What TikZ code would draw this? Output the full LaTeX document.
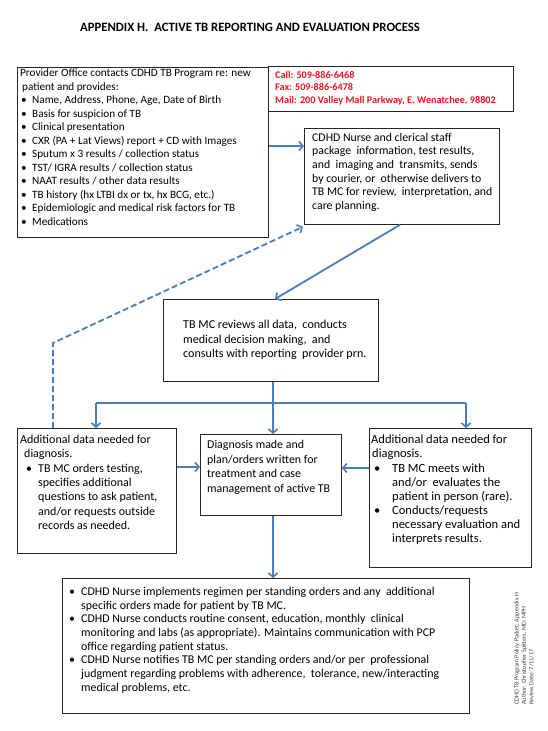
\documentclass[tikz,border=0pt]{standalone}
\usepackage{fontspec}
\setmainfont{Carlito}
\usetikzlibrary{arrows.meta,calc}
\definecolor{flow}{RGB}{74,126,187}
\definecolor{alert}{RGB}{240,20,30}
\newcommand{\bi}[2]{\hspace*{#1}\makebox[#2][l]{•}}
\newcommand{\ci}[1]{\hspace*{#1}}
\tikzset{
  box/.style={draw=black!85, line width=0.8pt, inner sep=0pt, anchor=north west},
  txt/.style={inner sep=0pt, anchor=north west, align=left},
  fa/.style={draw=flow, line width=1.8pt, -{Straight Barb[length=4pt,width=9pt,line width=1.6pt]}},
  fl/.style={draw=flow, line width=1.8pt},
}
\begin{document}
\begin{tikzpicture}[x=1pt,y=-1pt]
\useasboundingbox[fill=white] (0,0) rectangle (547,731);
% title
\node[inner sep=0pt, font=\bfseries\fontsize{12.7}{15}\selectfont] (title) at (250,27) {APPENDIX H.\ \ ACTIVE TB REPORTING AND EVALUATION PROCESS};
% boxes
\node[box, minimum width=251, minimum height=170] (b1) at (17,67) {};
\node[box, minimum width=245, minimum height=45] (red) at (268,66) {};
\node[box, minimum width=195, minimum height=96] (b2) at (304,128) {};
\node[box, minimum width=215, minimum height=82] (b3) at (163,299) {};
\node[box, minimum width=159, minimum height=125] (lb) at (17,428) {};
\node[box, minimum width=141, minimum height=81] (d) at (200,434) {};
\node[box, minimum width=162, minimum height=139] (rb) at (369,428) {};
\node[box, minimum width=407, minimum height=135] (bb) at (62,578) {};
% texts
\node[txt, font=\fontsize{11.2}{13.5}\selectfont] (t1) at (20,69) {Provider Office contacts CDHD TB Program re: new\\
\ci{2pt}patient and provides:\\
\bi{1pt}{11pt}Name, Address, Phone, Age, Date of Birth\\
\bi{1pt}{11pt}Basis for suspicion of TB\\
\bi{1pt}{11pt}Clinical presentation\\
\bi{1pt}{11pt}CXR (PA + Lat Views) report + CD with Images\\
\bi{1pt}{11pt}Sputum x 3 results / collection status\\
\bi{1pt}{11pt}TST/ IGRA results / collection status\\
\bi{1pt}{11pt}NAAT results / other data results\\
\bi{1pt}{11pt}TB history (hx LTBI dx or tx, hx BCG, etc.)\\
\bi{1pt}{11pt}Epidemiologic and medical risk factors for TB\\
\bi{1pt}{11pt}Medications};
\node[txt, text=alert, font=\bfseries\fontsize{10.2}{12.5}\selectfont] (tr) at (275,71) {Call: 509-886-6468\\
Fax: 509-886-6478\\
Mail: 200 Valley Mall Parkway, E. Wenatchee, 98802};
\node[txt, font=\fontsize{11.8}{13.6}\selectfont] (t2) at (312,133) {CDHD Nurse and clerical staff\\
package\ \ information, test results,\\
and\ \ imaging and\ \ transmits, sends\\
by courier, or\ \ otherwise delivers to\\
TB MC for review,\ \ interpretation, and\\
care planning.};
\node[txt, font=\fontsize{12.1}{14.5}\selectfont] (t3) at (183,320) {TB MC reviews all data,\ \ conducts\\
medical decision making,\ \ and\\
consults with reporting\ \ provider prn.};
\node[txt, font=\fontsize{12}{14.3}\selectfont] (tl) at (20,435) {Additional data needed for\\
\ci{4pt}diagnosis.\\
\bi{6pt}{12pt}TB MC orders testing,\\
\ci{18pt}specifies additional\\
\ci{18pt}questions to ask patient,\\
\ci{18pt}and/or requests outside\\
\ci{18pt}records as needed.};
\node[txt, font=\fontsize{11.9}{14.7}\selectfont] (td) at (207,440) {Diagnosis made and\\
plan/orders written for\\
treatment and case\\
management of active TB};
\node[txt, font=\fontsize{12.5}{14.1}\selectfont] (tri) at (371,435) {Additional data needed for\\
\ci{1pt}diagnosis.\\
\bi{3pt}{18pt}TB MC meets with\\
\ci{21pt}and/or\ \ evaluates the\\
\ci{21pt}patient in person (rare).\\
\bi{3pt}{18pt}Conducts/requests\\
\ci{21pt}necessary evaluation and\\
\ci{21pt}interprets results.};
\node[txt, font=\fontsize{11.9}{13.7}\selectfont] (tb) at (66,587) {\bi{3pt}{12pt}CDHD Nurse implements regimen per standing orders and any\ \ additional\\
\ci{15pt}specific orders made for patient by TB MC.\\
\bi{3pt}{12pt}CDHD Nurse conducts routine consent, education, monthly\ \ clinical\\
\ci{15pt}monitoring and labs (as appropriate). Maintains communication with PCP\\
\ci{15pt}office regarding patient status.\\
\bi{3pt}{12pt}CDHD Nurse notifies TB MC per standing orders and/or per\ \ professional\\
\ci{15pt}judgment regarding problems with adherence,\ \ tolerance, new/interacting\\
\ci{15pt}medical problems, etc.};
% side note
\node[inner sep=0pt, rotate=90, anchor=north west, align=left, text=black!75, font=\fontsize{6.2}{7.4}\selectfont] (side) at (514,705) {CDHD TB Program Policy Packet: Appendix H\\
Author: Christopher Spitters, MD, MPH\\
Review Date: 7/11/17};
% connectors
\coordinate (j) at (273,403);
\coordinate (jl) at (96,403);
\coordinate (jr) at (466,403);
\coordinate (dk) at (53,343);
\draw[fa] (b1.east |- 0,146) -- (b2.west |- 0,146);
\draw[fa] ($(b2.south west)+(96,0)$) -- ($(b3.north west)+(112,0)$);
\draw[fl] (b3.south -| j) -- (j);
\draw[fl] (jl) -- (jr);
\draw[fa] (jl) -- (lb.north -| jl);
\draw[fa] (j) -- (d.north -| j);
\draw[fa] (jr) -- (rb.north -| jr);
\draw[fa] (lb.east |- 0,467) -- (d.west |- 0,467);
\draw[fa] (rb.west |- 0,468) -- (d.east |- 0,468);
\draw[fa] (d.south -| j) -- (bb.north -| j);
\draw[fa, dash pattern=on 6pt off 3pt] (lb.north -| dk) -- (dk) -- ($(b2.south west)+(-1,2)$);
\end{tikzpicture}
\end{document}
